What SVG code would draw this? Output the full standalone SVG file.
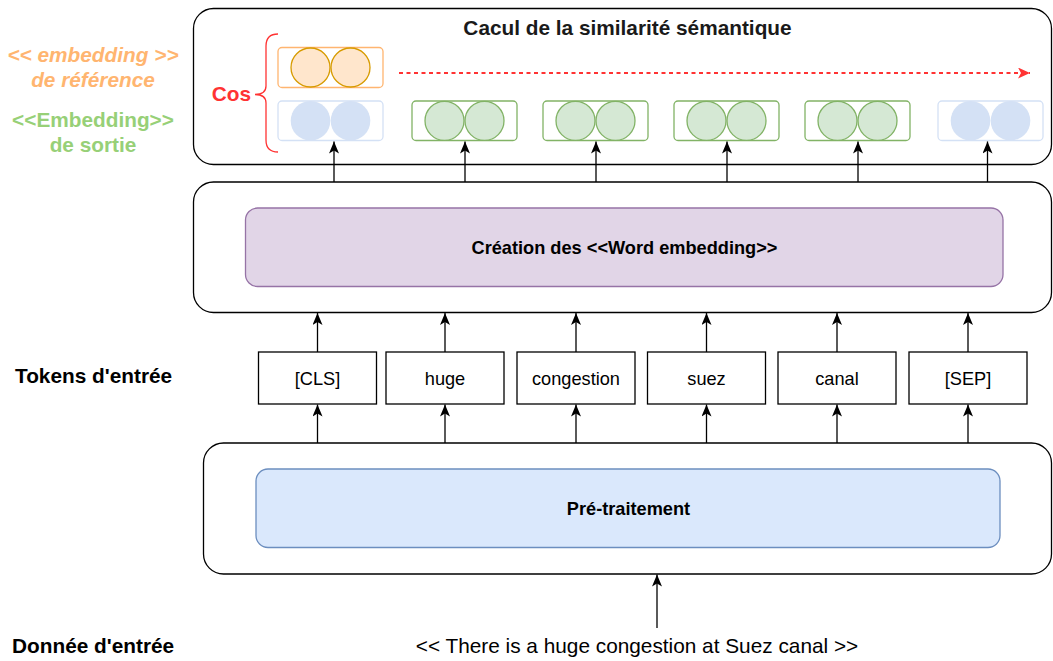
<svg xmlns="http://www.w3.org/2000/svg" width="1053" height="661" viewBox="0 0 1053 661">
<defs>
<style>
text{font-family:"Liberation Sans",Arial,Helvetica,sans-serif;}
.frame{fill:#fff;stroke:#000;stroke-width:1.3;}
.tok{fill:#fff;stroke:#000;stroke-width:1.3;}
.tokt{font-size:18.2px;fill:#000;text-anchor:middle;}
.lbl{font-size:20.8px;font-weight:bold;fill:#000;}
.edge{stroke:#000;stroke-width:1.3;fill:none;marker-end:url(#arr);}
.obox{fill:#fff;stroke:#FFB570;stroke-width:1.3;}
.ocir{fill:#ffe6cc;stroke:#d79b00;stroke-width:1.3;}
.bbox{fill:#fff;stroke:#D4E1F5;stroke-width:1.3;}
.bcir{fill:#D4E1F5;stroke:none;}
.gbox{fill:#fff;stroke:#82b366;stroke-width:1.3;}
.gcir{fill:#d5e8d4;stroke:#82b366;stroke-width:1.3;}
</style>
<marker id="arr" markerUnits="userSpaceOnUse" markerWidth="14" markerHeight="12" refX="12" refY="5" orient="auto">
<path d="M0,0 L12,5 L0,10 L3,5 Z" fill="#000"/>
</marker>
<marker id="rarr" markerUnits="userSpaceOnUse" markerWidth="16" markerHeight="14" refX="12" refY="5.5" orient="auto">
<path d="M0,0 L12,5.5 L0,11 L3,5.5 Z" fill="#FF3333"/>
</marker>
</defs>

<!-- side labels -->
<g id="labels">
<text x="93" y="61.5" text-anchor="middle" style="font-size:20.8px;font-weight:bold;font-style:italic;fill:#FFB570">&lt;&lt; embedding &gt;&gt;</text>
<text x="93" y="87" text-anchor="middle" style="font-size:20.8px;font-weight:bold;font-style:italic;fill:#FFB570">de référence</text>
<text x="93" y="126.5" text-anchor="middle" style="font-size:20.8px;font-weight:bold;fill:#97D077">&lt;&lt;Embedding&gt;&gt;</text>
<text x="93" y="152" text-anchor="middle" style="font-size:20.8px;font-weight:bold;fill:#97D077">de sortie</text>
<text class="lbl" x="15" y="382.5">Tokens d'entrée</text>
<text class="lbl" x="12" y="653">Donnée d'entrée</text>
</g>

<!-- similarity block -->
<g id="similarity">
<rect class="frame" x="193.5" y="8.5" width="858" height="156" rx="20" ry="20"/>
<text x="627.5" y="35" text-anchor="middle" style="font-size:20.8px;font-weight:bold;fill:#1a1a1a">Cacul de la similarité sémantique</text>
</g>

<g id="cos">
<path d="M278,34 Q266,34 266,46 L266,86 Q266,94.5 255,94.5 Q266,94.5 266,103 L266,140 Q266,152 278,152" fill="none" stroke="#FF3333" stroke-width="1.3"/>
<text x="251" y="100.5" text-anchor="end" style="font-size:20.8px;font-weight:bold;fill:#FF3333">Cos</text>
</g>

<g id="emb-ref">
<rect class="obox" x="278" y="47.5" width="105" height="40" rx="4"/>
<circle class="ocir" cx="310.5" cy="67.5" r="19.5"/>
<circle class="ocir" cx="350.5" cy="67.5" r="19.5"/>
</g>

<g id="emb-cls">
<rect class="bbox" x="278" y="101" width="105" height="39.5" rx="4"/>
<circle class="bcir" cx="310.5" cy="120.8" r="19.8"/>
<circle class="bcir" cx="350.5" cy="120.8" r="19.8"/>
</g>
<g id="emb-huge">
<rect class="gbox" x="412" y="101" width="105" height="39.5" rx="4"/>
<circle class="gcir" cx="444.5" cy="120.8" r="19.5"/>
<circle class="gcir" cx="484.5" cy="120.8" r="19.5"/>
</g>
<g id="emb-congestion">
<rect class="gbox" x="543" y="101" width="105" height="39.5" rx="4"/>
<circle class="gcir" cx="575.5" cy="120.8" r="19.5"/>
<circle class="gcir" cx="615.5" cy="120.8" r="19.5"/>
</g>
<g id="emb-suez">
<rect class="gbox" x="674" y="101" width="105" height="39.5" rx="4"/>
<circle class="gcir" cx="706.5" cy="120.8" r="19.5"/>
<circle class="gcir" cx="746.5" cy="120.8" r="19.5"/>
</g>
<g id="emb-canal">
<rect class="gbox" x="805" y="101" width="105" height="39.5" rx="4"/>
<circle class="gcir" cx="837.5" cy="120.8" r="19.5"/>
<circle class="gcir" cx="877.5" cy="120.8" r="19.5"/>
</g>
<g id="emb-sep">
<rect class="bbox" x="938" y="101" width="105" height="39.5" rx="4"/>
<circle class="bcir" cx="970.5" cy="120.8" r="19.8"/>
<circle class="bcir" cx="1010.5" cy="120.8" r="19.8"/>
</g>

<!-- word embedding block -->
<g id="word-embedding">
<rect class="frame" x="193.5" y="182" width="858" height="130.5" rx="20" ry="20"/>
<rect x="245.5" y="208" width="757.5" height="78.5" rx="12" fill="#e1d5e7" stroke="#9673a6" stroke-width="1.3"/>
<text x="624.5" y="254" text-anchor="middle" style="font-size:18.2px;font-weight:bold;fill:#000">Création des &lt;&lt;Word embedding&gt;&gt;</text>
</g>

<!-- tokens -->
<g id="tok-cls"><rect class="tok" x="258.5" y="352" width="118" height="52"/><text class="tokt" x="317.5" y="384.5">[CLS]</text></g>
<g id="tok-huge"><rect class="tok" x="386" y="352" width="118" height="52"/><text class="tokt" x="445" y="384.5">huge</text></g>
<g id="tok-congestion"><rect class="tok" x="517" y="352" width="118" height="52"/><text class="tokt" x="576" y="384.5">congestion</text></g>
<g id="tok-suez"><rect class="tok" x="647.5" y="352" width="118" height="52"/><text class="tokt" x="706.5" y="384.5">suez</text></g>
<g id="tok-canal"><rect class="tok" x="778" y="352" width="118" height="52"/><text class="tokt" x="837" y="384.5">canal</text></g>
<g id="tok-sep"><rect class="tok" x="909" y="352" width="118" height="52"/><text class="tokt" x="968" y="384.5">[SEP]</text></g>

<!-- preprocessing block -->
<g id="preprocessing">
<rect class="frame" x="203.5" y="443" width="848" height="131" rx="20" ry="20"/>
<rect x="256" y="469" width="744" height="78.5" rx="12" fill="#dae8fc" stroke="#6c8ebf" stroke-width="1.3"/>
<text x="628.5" y="515" text-anchor="middle" style="font-size:18.2px;font-weight:bold;fill:#000">Pré-traitement</text>
</g>

<g id="input">
<text x="637" y="653" text-anchor="middle" style="font-size:20.8px;fill:#000">&lt;&lt; There is a huge congestion at Suez canal &gt;&gt;</text>
</g>

<!-- connectors -->
<g id="connectors">
<line x1="399" y1="73" x2="1030" y2="73" stroke="#FF3333" stroke-width="2" stroke-dasharray="4 3.5" marker-end="url(#rarr)"/>
<line class="edge" x1="334" y1="182" x2="334" y2="141.5"/>
<line class="edge" x1="465" y1="182" x2="465" y2="141.5"/>
<line class="edge" x1="596" y1="182" x2="596" y2="141.5"/>
<line class="edge" x1="727" y1="182" x2="727" y2="141.5"/>
<line class="edge" x1="858" y1="182" x2="858" y2="141.5"/>
<line class="edge" x1="987.5" y1="182" x2="987.5" y2="141.5"/>

<line class="edge" x1="317.5" y1="352" x2="317.5" y2="313"/>
<line class="edge" x1="445" y1="352" x2="445" y2="313"/>
<line class="edge" x1="576" y1="352" x2="576" y2="313"/>
<line class="edge" x1="706.5" y1="352" x2="706.5" y2="313"/>
<line class="edge" x1="837" y1="352" x2="837" y2="313"/>
<line class="edge" x1="968" y1="352" x2="968" y2="313"/>

<line class="edge" x1="317.5" y1="443" x2="317.5" y2="404.5"/>
<line class="edge" x1="445" y1="443" x2="445" y2="404.5"/>
<line class="edge" x1="576" y1="443" x2="576" y2="404.5"/>
<line class="edge" x1="706.5" y1="443" x2="706.5" y2="404.5"/>
<line class="edge" x1="837" y1="443" x2="837" y2="404.5"/>
<line class="edge" x1="968" y1="443" x2="968" y2="404.5"/>

<line class="edge" x1="657" y1="628" x2="657" y2="574.5"/>
</g>
</svg>
